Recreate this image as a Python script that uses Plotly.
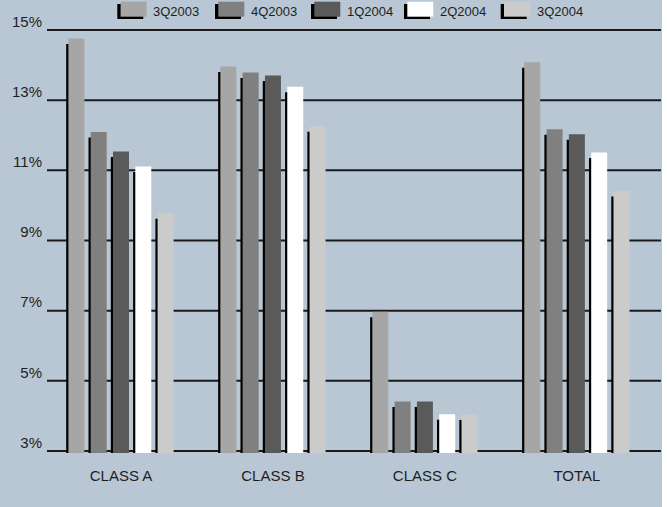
import plotly.graph_objects as go

categories = ["CLASS A", "CLASS B", "CLASS C", "TOTAL"]
quarters = ["3Q2003", "4Q2003", "1Q2004", "2Q2004", "3Q2004"]
v_3Q2003 = [14.76, 13.96, 6.97, 14.08]
v_4Q2003 = [12.09, 13.79, 4.41, 12.17]
v_1Q2004 = [11.54, 13.70, 4.41, 12.03]
v_2Q2004 = [11.11, 13.38, 4.05, 11.51]
v_3Q2004 = [9.78, 12.26, 4.04, 10.41]
series = [v_3Q2003, v_4Q2003, v_1Q2004, v_2Q2004, v_3Q2004]
y_tick_vals = [3, 5, 7, 9, 11, 13, 15]
y_tick_text = ["3%", "5%", "7%", "9%", "11%", "13%", "15%"]

colors = ["#a6a6a6", "#808080", "#5a5a5a", "#ffffff", "#cbcbcb"]
BG = "#b8c7d3"
FONT = "Liberation Sans, Arial, sans-serif"
TXT = "#1e1e1e"

W, H = 662, 507
ML, MR, MT, MB = 47, 1, 23, 54
PW, PH = W - ML - MR, H - MT - MB
cat_px = 151.96          # pixels per category
pct_px = 35.083          # pixels per 1%
x_lo = -74 / cat_px
x_hi = x_lo + PW / cat_px
y_hi = 15 + 7 / pct_px
y_lo = y_hi - PH / pct_px

step = 22.3 / cat_px
bw = 16.0 / cat_px
sh_dx = 2.2 / cat_px
sh_dy = 5.5 / pct_px

fig = go.Figure()
# shadows
for i, vals in enumerate(series):
    off = (i - 2) * step - bw / 2
    fig.add_trace(go.Bar(
        x=categories, y=[v - sh_dy for v in vals], offset=off - sh_dx, width=bw,
        marker=dict(color="#000000", line=dict(width=0)), opacity=1,
        showlegend=False, hoverinfo="skip"))
# bars
for i, vals in enumerate(series):
    off = (i - 2) * step - bw / 2
    fig.add_trace(go.Bar(
        x=categories, y=vals, offset=off, width=bw, name=quarters[i],
        marker=dict(color=colors[i], line=dict(width=0)), opacity=1,
        showlegend=False))

def fx(px):
    return (px - ML) / PW

def fy(py):
    return (H - MB - py) / PH

shapes = []
annotations = []
# horizontal gridlines behind the bars
for v in y_tick_vals:
    shapes.append(dict(type="line", xref="paper", yref="y", x0=0, x1=1, y0=v, y1=v,
                       line=dict(color="#1a1a1a", width=2), layer="below"))

leg_start = [117.3, 215, 311, 404, 500.7]
for i, q in enumerate(quarters):
    x0 = leg_start[i]
    shapes.append(dict(type="rect", xref="paper", yref="paper",
                       x0=fx(x0), x1=fx(x0 + 26), y0=fy(19), y1=fy(4),
                       fillcolor="#000000", line=dict(width=0), layer="above"))
    shapes.append(dict(type="rect", xref="paper", yref="paper",
                       x0=fx(x0 + 3.3), x1=fx(x0 + 29.3), y0=fy(16.7), y1=fy(1.7),
                       fillcolor=colors[i], line=dict(width=0), layer="above"))
    annotations.append(dict(xref="paper", yref="paper", x=fx(x0 + 34), y=fy(12),
                            xanchor="left", yanchor="middle", text=q, showarrow=False,
                            font=dict(size=13, color=TXT, family=FONT)))

fig.update_layout(
    width=W, height=H,
    margin=dict(l=ML, r=MR, t=MT, b=MB, pad=0),
    paper_bgcolor=BG, plot_bgcolor=BG,
    barmode="overlay",
    showlegend=False,
    font=dict(family=FONT, size=15, color=TXT),
    shapes=shapes, annotations=annotations,
    xaxis=dict(range=[x_lo, x_hi], showgrid=False, zeroline=False, showline=False,
               ticks="", tickfont=dict(size=15, color=TXT), ticklabelstandoff=12,
               fixedrange=True),
    yaxis=dict(range=[y_lo, y_hi], tickvals=y_tick_vals, ticktext=y_tick_text,
               showgrid=False, zeroline=False,
               showline=False, ticks="", ticklabelposition="outside top",
               ticklabelstandoff=4, ticklabelshift=2,
               tickfont=dict(size=15, color=TXT), fixedrange=True),
)

fig.write_html("out.html")
